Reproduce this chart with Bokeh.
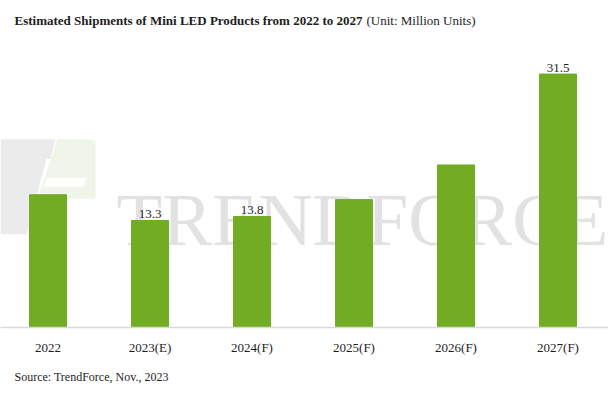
from bokeh.plotting import figure
from bokeh.models import Range1d, FixedTicker, Title
from bokeh.core.properties import value
from bokeh.embed import file_html
from bokeh.resources import INLINE

# ---- data ----
categories = ["2022", "2023(E)", "2024(F)", "2025(F)", "2026(F)", "2027(F)"]
shipments = [16.5, 13.3, 13.8, 15.9, 20.2, 31.5]
shown_labels = ["", "13.3", "13.8", "", "", "31.5"]

title_bold = "Estimated Shipments of Mini LED Products from 2022 to 2027"
title_unit = "(Unit: Million Units)"
source_note = "Source: TrendForce, Nov., 2023"
watermark = "TRENDFORCE"

# ---- layout constants ----
W, H = 608, 394
FRAME_BOTTOM = 330          # canvas px of the baseline
PX_PER_CAT = 102.0
FIRST_CENTER = 47.5         # canvas px of first bar centre
PX_PER_UNIT = 8.12

x_start = -FIRST_CENTER / PX_PER_CAT
x_end = (W - FIRST_CENTER) / PX_PER_CAT
y_end = FRAME_BOTTOM / PX_PER_UNIT


def X(px):  # canvas px -> data x (decoration only)
    return (px - FIRST_CENTER) / PX_PER_CAT


def Y(py):  # canvas px -> data y (decoration only)
    return (FRAME_BOTTOM - py) / PX_PER_UNIT


SERIF = value("Liberation Serif")
TXT = "#1e1e1e"

p = figure(width=W, height=H, x_range=Range1d(x_start, x_end),
           y_range=Range1d(0, y_end), output_backend="svg",
           toolbar_location=None, min_border_left=0, min_border_right=0,
           min_border_top=0, min_border_bottom=H - FRAME_BOTTOM,
           background_fill_color="white", border_fill_color="white")
p.outline_line_color = None
p.grid.visible = False
p.yaxis.visible = False

# ---- watermark (decoration) ----
gray_logo = [(0, 140), (55, 140), (50, 160), (46, 160), (26, 236), (0, 236)]
green_logo = [(57, 140), (92, 140), (95, 143), (95, 200), (37, 200)]
white_cut = [(46, 179), (86, 179), (83, 188), (43, 188)]
shapes = [gray_logo, green_logo, white_cut]
p.patches(xs=[[X(a) for a, b in s] for s in shapes],
          ys=[[Y(b) for a, b in s] for s in shapes],
          fill_color=["#ebebeb", "#eff5e8", "white"], line_color=None)
p.text(x=[X(116)], y=[Y(221)], text=[watermark], text_font=SERIF,
       text_font_size="75px", text_color="#e2e2e2",
       text_baseline="alphabetic", text_align="left")

# ---- bars ----
idx = list(range(len(categories)))
p.vbar(x=idx, top=shipments, width=37 / PX_PER_CAT, color="#72ac22")
p.text(x=idx, y=shipments, text=shown_labels, text_font=SERIF,
       text_font_size="13px", text_color=TXT, text_align="center",
       text_baseline="alphabetic", y_offset=-6)

# ---- title ----
p.text(x=[X(14)], y=[Y(20)], text=[title_bold], text_font=SERIF,
       text_font_style="bold", text_font_size="13px", text_color=TXT,
       text_baseline="alphabetic", text_align="left")
p.text(x=[X(366)], y=[Y(20)], text=[title_unit], text_font=SERIF,
       text_font_size="13px", text_color=TXT,
       text_baseline="alphabetic", text_align="left")

# ---- axis ----
ax = p.xaxis[0]
ax.ticker = FixedTicker(ticks=idx)
ax.major_label_overrides = {i: c for i, c in enumerate(categories)}
ax.axis_line_color = "#d9d9d9"
ax.axis_line_width = 1.5
ax.major_tick_line_color = None
ax.minor_tick_line_color = None
ax.major_label_text_font = "Liberation Serif"
ax.major_label_text_font_size = "13px"
ax.major_label_text_color = TXT
ax.major_label_standoff = 6

p.add_layout(Title(text=source_note, align="left", offset=14,
                   text_font="Liberation Serif", text_font_size="12px",
                   text_font_style="normal", text_color=TXT, standoff=21),
             "below")

open("out.html", "w").write(file_html(p, INLINE))
